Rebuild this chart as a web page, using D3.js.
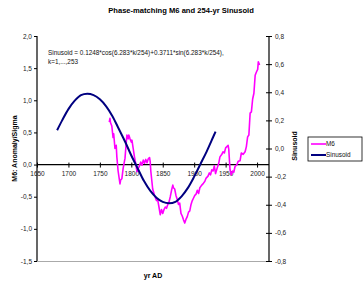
<!DOCTYPE html>
<html>
<head>
<meta charset="utf-8">
<script src="https://cdn.jsdelivr.net/npm/d3@7"></script>
<style>
  body { margin: 0; background: #fff; }
  text { font-family: "Liberation Sans", Arial, sans-serif; }
</style>
</head>
<body>
<script>
// M6 (left axis)
var m6Years = [1765, 1766, 1767, 1769, 1771, 1772, 1774, 1776, 1777, 1779, 1782, 1783, 1785, 1787, 1790, 1792, 1793, 1795, 1796, 1798, 1800, 1801, 1803, 1805, 1807, 1809, 1811, 1813, 1815, 1817, 1819, 1821, 1823, 1825, 1827, 1829, 1830, 1831, 1834, 1837, 1840, 1842, 1844, 1846, 1848, 1850, 1852, 1854, 1856, 1858, 1860, 1862, 1864, 1866, 1867, 1869, 1871, 1873, 1875, 1877, 1879, 1881, 1883, 1885, 1887, 1889, 1891, 1893, 1895, 1897, 1899, 1901, 1903, 1905, 1907, 1909, 1912, 1914, 1917, 1919, 1922, 1924, 1926, 1928, 1930, 1932, 1934, 1937, 1939, 1941, 1944, 1946, 1948, 1950, 1952, 1954, 1955, 1957, 1959, 1961, 1963, 1965, 1968, 1970, 1973, 1975, 1978, 1981, 1983, 1985, 1987, 1989, 1991, 1993, 1995, 1997, 1999, 2001, 2002, 2004];
var m6Values = [0.66, 0.72, 0.65, 0.60, 0.42, 0.48, 0.25, 0.30, 0.12, -0.10, -0.30, -0.24, -0.22, -0.06, 0.10, 0.35, 0.46, 0.40, 0.46, 0.40, 0.35, 0.38, 0.25, 0.12, 0.02, -0.11, -0.06, -0.02, 0.04, -0.01, 0.07, 0.02, 0.08, 0.03, 0.09, 0.11, 0.05, -0.10, -0.38, -0.48, -0.56, -0.55, -0.66, -0.78, -0.70, -0.76, -0.70, -0.66, -0.68, -0.62, -0.58, -0.50, -0.40, -0.32, -0.36, -0.38, -0.48, -0.54, -0.62, -0.60, -0.76, -0.80, -0.86, -0.91, -0.85, -0.81, -0.74, -0.72, -0.62, -0.56, -0.52, -0.48, -0.46, -0.40, -0.45, -0.36, -0.32, -0.30, -0.26, -0.21, -0.18, -0.13, -0.16, -0.08, -0.10, -0.02, -0.14, -0.04, 0.02, 0.12, 0.16, 0.20, 0.18, 0.26, 0.28, 0.30, 0.24, -0.08, -0.16, -0.10, -0.12, -0.03, 0.00, 0.05, 0.06, 0.18, 0.16, 0.20, 0.28, 0.43, 0.46, 0.80, 0.82, 1.02, 1.11, 1.39, 1.44, 1.48, 1.60, 1.55];

// Sinusoid (right axis)
var sinYears = [1682, 1690, 1700, 1710, 1720, 1730, 1740, 1750, 1760, 1770, 1780, 1790, 1800, 1810, 1820, 1830, 1840, 1850, 1860, 1870, 1880, 1890, 1900, 1910, 1920, 1930, 1934];
var sinValues = [0.13, 0.20, 0.28, 0.34, 0.38, 0.39, 0.38, 0.35, 0.30, 0.23, 0.14, 0.05, -0.05, -0.14, -0.23, -0.30, -0.35, -0.38, -0.39, -0.38, -0.34, -0.28, -0.20, -0.11, -0.02, 0.08, 0.12];

var xTicks = [1650, 1700, 1750, 1800, 1850, 1900, 1950, 2000];
var leftTicks = [-1.5, -1.0, -0.5, 0, 0.5, 1.0, 1.5, 2.0];
var rightTicks = [-0.8, -0.6, -0.4, -0.2, 0, 0.2, 0.4, 0.6, 0.8];

var svgWidth = 364, svgHeight = 288;
var plot = { left: 37, right: 269, top: 36, bottom: 261 };

var svg = d3.select("body").append("svg")
  .attr("width", svgWidth)
  .attr("height", svgHeight);

var x = d3.scaleLinear().domain([1650, 2019]).range([plot.left, plot.right]);
var yLeft = d3.scaleLinear().domain([-1.5, 2.0]).range([plot.bottom, plot.top]);
var yRight = d3.scaleLinear().domain([-0.8, 0.8]).range([plot.bottom, plot.top]);

var comma = d => d.toFixed(1).replace(".", ",");

// bottom border of plot area
svg.append("line")
  .attr("x1", plot.left).attr("x2", plot.right)
  .attr("y1", plot.bottom + 0.5).attr("y2", plot.bottom + 0.5)
  .attr("stroke", "#aaa").attr("stroke-width", 1.2);

// left axis
var leftAxis = svg.append("g")
  .attr("transform", `translate(${plot.left},0)`)
  .call(d3.axisLeft(yLeft).tickValues(leftTicks).tickFormat(comma).tickSize(3).tickPadding(2));

// right axis
var rightAxis = svg.append("g")
  .attr("transform", `translate(${plot.right},0)`)
  .call(d3.axisRight(yRight).tickValues(rightTicks).tickFormat(comma).tickSize(3).tickPadding(3));
rightAxis.selectAll(".tick line").attr("x1", -3);

// x axis crossing at 0 of left axis
var xAxis = svg.append("g")
  .attr("transform", `translate(0,${yLeft(0)})`)
  .call(d3.axisBottom(x).tickValues(xTicks).tickFormat(d3.format("d")).tickSize(3).tickPadding(4));
xAxis.selectAll(".tick line").attr("y1", -2);

[leftAxis, rightAxis, xAxis].forEach(function(g) {
  g.select(".domain").attr("stroke", "#000").attr("stroke-width", 1.2);
  g.selectAll(".tick line").attr("stroke", "#000");
  g.selectAll(".tick text").attr("font-size", "6.5px").attr("fill", "#222")
    .style("font-family", "'Liberation Sans', Arial, sans-serif");
});
xAxis.select(".domain").attr("d", `M${plot.left},0H${plot.right}`);
leftAxis.select(".domain").attr("d", `M0,${plot.top}V${plot.bottom}`);
rightAxis.select(".domain").attr("d", `M0,${plot.top}V${plot.bottom}`);

// lines
var m6Line = d3.line()
  .x((d, i) => x(m6Years[i]))
  .y(d => yLeft(d));

svg.append("path")
  .datum(m6Values)
  .attr("fill", "none")
  .attr("stroke", "#ff00ff")
  .attr("stroke-width", 1.6)
  .attr("stroke-linejoin", "round")
  .attr("d", m6Line);

var sinLine = d3.line()
  .curve(d3.curveCatmullRom)
  .x((d, i) => x(sinYears[i]))
  .y(d => yRight(d));

svg.append("path")
  .datum(sinValues)
  .attr("fill", "none")
  .attr("stroke", "#000080")
  .attr("stroke-width", 2)
  .attr("d", sinLine);

// title
svg.append("text")
  .attr("x", 181).attr("y", 13)
  .attr("text-anchor", "middle")
  .attr("font-size", "7.6px")
  .attr("font-weight", "bold")
  .text("Phase-matching M6 and 254-yr Sinusoid");

// annotation
svg.append("text")
  .attr("x", 48).attr("y", 55)
  .attr("font-size", "6.4px")
  .attr("fill", "#111")
  .text("Sinusoid = 0.1248*cos(6.283*k/254)+0.3711*sin(6.283*k/254),");
svg.append("text")
  .attr("x", 48).attr("y", 64)
  .attr("font-size", "6.4px")
  .attr("fill", "#111")
  .text("k=1,...,253");

// axis titles
svg.append("text")
  .attr("transform", `translate(17,${(plot.top + plot.bottom) / 2}) rotate(-90)`)
  .attr("text-anchor", "middle")
  .attr("font-size", "7px")
  .attr("font-weight", "bold")
  .text("M6: Anomaly/Sigma");

svg.append("text")
  .attr("transform", `translate(297,146) rotate(-90)`)
  .attr("text-anchor", "middle")
  .attr("font-size", "7px")
  .attr("font-weight", "bold")
  .text("Sinusoid");

svg.append("text")
  .attr("x", (plot.left + plot.right) / 2).attr("y", 278)
  .attr("text-anchor", "middle")
  .attr("font-size", "7px")
  .attr("font-weight", "bold")
  .text("yr AD");

// legend
var legend = svg.append("g").attr("transform", "translate(308,137)");
legend.append("rect")
  .attr("width", 54).attr("height", 24)
  .attr("fill", "#fff").attr("stroke", "#000").attr("stroke-width", 0.8);

var legendItems = [
  { name: "M6", color: "#ff00ff", width: 1.6 },
  { name: "Sinusoid", color: "#000080", width: 2 }
];
legendItems.forEach(function(item, i) {
  var y = 7 + i * 11;
  legend.append("line")
    .attr("x1", 3).attr("x2", 18)
    .attr("y1", y).attr("y2", y)
    .attr("stroke", item.color).attr("stroke-width", item.width);
  legend.append("text")
    .attr("x", 18).attr("y", y + 2.3)
    .attr("font-size", "6.4px")
    .attr("fill", "#111")
    .text(item.name);
});
</script>
</body>
</html>
